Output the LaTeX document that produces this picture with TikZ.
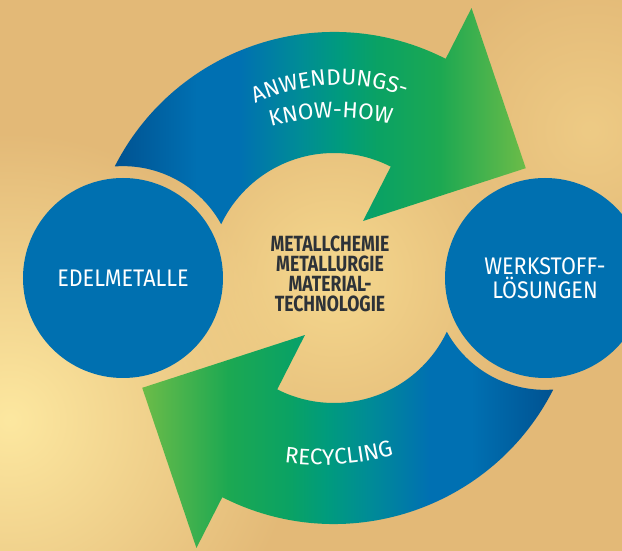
\documentclass[tikz,border=0pt]{standalone}
\usepackage{fontspec}
\setmainfont{Fira Sans}
\newfontfamily\labelfont[FakeStretch=0.9]{Fira Sans}
\newfontfamily\corefont[FakeStretch=0.8]{Fira Sans}
\usetikzlibrary{decorations.text,fadings}

\definecolor{sand}{RGB}{227,185,119}
\definecolor{paleGold}{RGB}{253,232,160}
\definecolor{midGold}{RGB}{245,216,142}
\definecolor{hubBlue}{RGB}{0,112,176}
\definecolor{coreGray}{RGB}{45,50,56}
\definecolor{deepBlue}{RGB}{0,82,145}
\definecolor{flowBlue}{RGB}{0,112,178}
\definecolor{flowTeal}{RGB}{0,140,150}
\definecolor{flowSea}{RGB}{0,155,125}
\definecolor{flowGreen}{RGB}{10,162,100}
\definecolor{leafGreen}{RGB}{28,168,82}
\definecolor{lightGreen}{RGB}{108,188,72}

% left to right: dark blue tail, green head
\pgfdeclarehorizontalshading{cycleflow}{100bp}{%
  color(0bp)=(deepBlue); color(25bp)=(deepBlue); color(35bp)=(flowBlue);
  color(40bp)=(flowBlue); color(47.5bp)=(flowTeal); color(52.5bp)=(flowSea);
  color(57bp)=(flowGreen); color(64.5bp)=(leafGreen); color(75bp)=(lightGreen);
  color(100bp)=(lightGreen)}

\tikzfading[name=glowfade, inner color=transparent!0, outer color=transparent!100]

\newcommand\curvefont{\fontsize{22.5}{22.5}\selectfont}

\tikzset{
  hub/.style = {circle, fill=hubBlue, minimum size=200pt, inner sep=0pt,
                text=white, align=center,
                font=\labelfont\fontsize{24}{24.5}\selectfont},
  core/.style = {align=center, text=coreGray,
                 font=\corefont\bfseries\fontsize{22}{20}\selectfont},
  % ring segment with a broad head, tail cut round the left hub
  cycle arrow/.style = {insert path={
    (153:246) arc[start angle=153, end angle=63, radius=246]
    -- (63:303) -- (29.8:221) -- (63:64) -- (63:125)
    arc[start angle=63, end angle=154.5, radius=125]
    arc[start angle=28.8, end angle=94.2, radius=112] -- cycle}},
  arc label/.style = {decorate, decoration={text along path,
    text align=center, text color=white, text={|\curvefont|#1}}}
}

\begin{document}
\begin{tikzpicture}[x=1pt, y=1pt]
  % background
  \clip (-334,-273) rectangle (288,278);
  \fill[sand] (-334,-273) rectangle (288,278);
  \fill[paleGold, path fading=glowfade] (-324,-142) circle (290);
  \fill[midGold, path fading=glowfade] (0,0) circle (200);
  \fill[midGold!60!sand, path fading=glowfade] (256,148) circle (160);

  % the two arrows
  \shade[shading=cycleflow, cycle arrow];
  \begin{scope}[rotate=180]
    \shade[shading=cycleflow, shading angle=180, cycle arrow];
  \end{scope}

  \node[hub] (edel) at (-211,0) {EDELMETALLE};
  \node[hub] (werk) at (211,0) {WERKSTOFF-\\LÖSUNGEN};

  \node[core] (core) at (-4,4) {METALLCHEMIE\\METALLURGIE\\MATERIAL-\\TECHNOLOGIE};

  \path[arc label={ANWENDUNGS-}] (6,-7) ++(121:200)
    arc[start angle=121, end angle=65, radius=200];
  \path[arc label={KNOW-HOW}] (1,-80) ++(110:240)
    arc[start angle=110, end angle=72, radius=240];
  \path[arc label={RECYCLING}] (-14,93) ++(249:280)
    arc[start angle=249, end angle=299, radius=280];
\end{tikzpicture}
\end{document}
